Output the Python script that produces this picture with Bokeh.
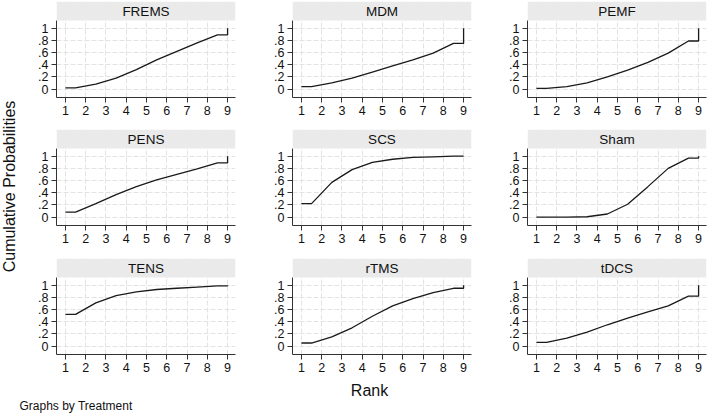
from bokeh.plotting import figure
from bokeh.layouts import column, row
from bokeh.models import FixedTicker, BoxAnnotation, Label, Range1d
from bokeh.embed import file_html
from bokeh.resources import INLINE

treatments = ["FREMS", "MDM", "PEMF", "PENS", "SCS", "Sham", "TENS", "rTMS", "tDCS"]
ranks = [1, 2, 3, 4, 5, 6, 7, 8, 9]

frems = [0.02, 0.08, 0.18, 0.32, 0.48, 0.62, 0.76, 0.89, 1.00]
mdm = [0.04, 0.10, 0.18, 0.28, 0.38, 0.48, 0.59, 0.75, 1.00]
pemf = [0.01, 0.04, 0.10, 0.20, 0.31, 0.44, 0.59, 0.79, 1.00]
pens = [0.08, 0.22, 0.37, 0.50, 0.61, 0.70, 0.79, 0.89, 1.00]
scs = [0.22, 0.57, 0.78, 0.90, 0.95, 0.98, 0.99, 1.00, 1.00]
sham = [0.00, 0.00, 0.005, 0.05, 0.21, 0.50, 0.80, 0.97, 1.00]
tens = [0.52, 0.71, 0.83, 0.89, 0.93, 0.95, 0.97, 0.99, 1.00]
rtms = [0.05, 0.15, 0.30, 0.49, 0.66, 0.78, 0.88, 0.95, 1.00]
tdcs = [0.06, 0.13, 0.23, 0.35, 0.46, 0.56, 0.66, 0.82, 1.00]

series = [frems, mdm, pemf, pens, scs, sham, tens, rtms, tdcs]

yticks = [0, 0.2, 0.4, 0.6, 0.8, 1]
ytick_labels = ["0", ".2", ".4", ".6", ".8", "1"]

y_title = "Cumulative Probabilities"
x_title = "Rank"
note = "Graphs by Treatment"

FONT = "Liberation Sans"
TXT = "#111111"
X0, X1 = 0.56, 9.39
Y0, YTOP = -0.139, 1.127
PLOT_H, STRIP_H = 77, 19
STRIP = (YTOP - Y0) / PLOT_H * STRIP_H
FRAME_W = 179

BORDER_LEFT = [38, 53, 52]
BORDER_RIGHT = [4, 4, 1]
BORDER_TOP = [1, 0, 0]
BORDER_BOTTOM = [32, 33, 25]
FOOT_H = 34


def make_panel(idx):
    name = treatments[idx]
    cum = series[idx]
    r, c = divmod(idx, 3)
    p = figure(
        frame_width=FRAME_W, frame_height=PLOT_H + STRIP_H,
        x_range=Range1d(X0, X1), y_range=Range1d(Y0, YTOP + STRIP),
        output_backend="svg", toolbar_location=None,
        min_border_left=BORDER_LEFT[c], min_border_right=BORDER_RIGHT[c],
        min_border_top=BORDER_TOP[r], min_border_bottom=BORDER_BOTTOM[r],
        background_fill_color="white", border_fill_color="white",
        outline_line_color=None,
    )
    # cumulative curve: flat over first half-rank, joins at half-ranks,
    # flat over last half-rank, then rises to the final value
    xs = [ranks[0]] + [k + 0.5 for k in ranks[:-1]] + [ranks[-1], ranks[-1]]
    ys = [cum[0]] + cum[:-1] + [cum[-2], cum[-1]]
    p.line(xs, ys, line_color="#1a1a1a", line_width=1.3)

    for ax in (p.xaxis[0], p.yaxis[0]):
        ax.axis_line_color = "#333333"
        ax.major_tick_line_color = "#333333"
        ax.major_tick_out = 5
        ax.major_tick_in = 0
        ax.minor_tick_line_color = None
        ax.major_label_standoff = 3
        ax.major_label_text_font = FONT
        ax.major_label_text_font_size = "12.5px"
        ax.major_label_text_color = TXT

    p.xaxis.ticker = FixedTicker(ticks=ranks)
    p.yaxis.ticker = FixedTicker(ticks=yticks)
    p.yaxis.major_label_overrides = {t: l for t, l in zip(yticks, ytick_labels)}
    p.yaxis.bounds = (Y0, YTOP)

    p.xgrid.ticker = FixedTicker(ticks=ranks)
    p.ygrid.ticker = FixedTicker(ticks=yticks)
    for g in (p.xgrid[0], p.ygrid[0]):
        g.grid_line_color = "#e3e3e3"
        g.grid_line_dash = "5 2"
        g.grid_line_width = 1

    p.add_layout(BoxAnnotation(bottom=YTOP, fill_color="#eaeaea", fill_alpha=1.0,
                               line_color=None))
    p.add_layout(Label(x=(X0 + X1) / 2, y=YTOP + STRIP / 2, text=name,
                       text_align="center", text_baseline="middle",
                       text_font=FONT, text_font_size="13.5px", text_color=TXT))
    return p


def blank(w, h):
    f = figure(frame_width=w, frame_height=h, x_range=Range1d(0, w),
               y_range=Range1d(0, h), output_backend="svg", toolbar_location=None,
               x_axis_location=None, y_axis_location=None,
               min_border_left=0, min_border_right=0, min_border_top=0,
               min_border_bottom=0, outline_line_color=None,
               background_fill_color="white", border_fill_color="white")
    f.grid.visible = False
    return f


panels = [make_panel(i) for i in range(9)]
grid = column(row(*panels[0:3]), row(*panels[3:6]), row(*panels[6:9]))

rows_h = sum(BORDER_TOP) + sum(BORDER_BOTTOM) + 3 * (PLOT_H + STRIP_H)

# shared y title
ylab = blank(18, rows_h)
ylab.add_layout(Label(x=9, y=rows_h - 186, text=y_title, angle=90,
                      angle_units="deg", text_align="center",
                      text_baseline="middle", text_font=FONT,
                      text_font_size="16px", text_color=TXT))

# shared x title and note
foot = blank(700, FOOT_H)
foot.add_layout(Label(x=369, y=FOOT_H - 11, text=x_title, text_align="center",
                      text_baseline="middle", text_font=FONT,
                      text_font_size="16px", text_color=TXT))
foot.add_layout(Label(x=19, y=FOOT_H - 26, text=note, text_align="left",
                      text_baseline="middle", text_font=FONT,
                      text_font_size="12px", text_color=TXT))

layout = column(row(ylab, grid), foot)

open("out.html", "w").write(file_html(layout, INLINE))
